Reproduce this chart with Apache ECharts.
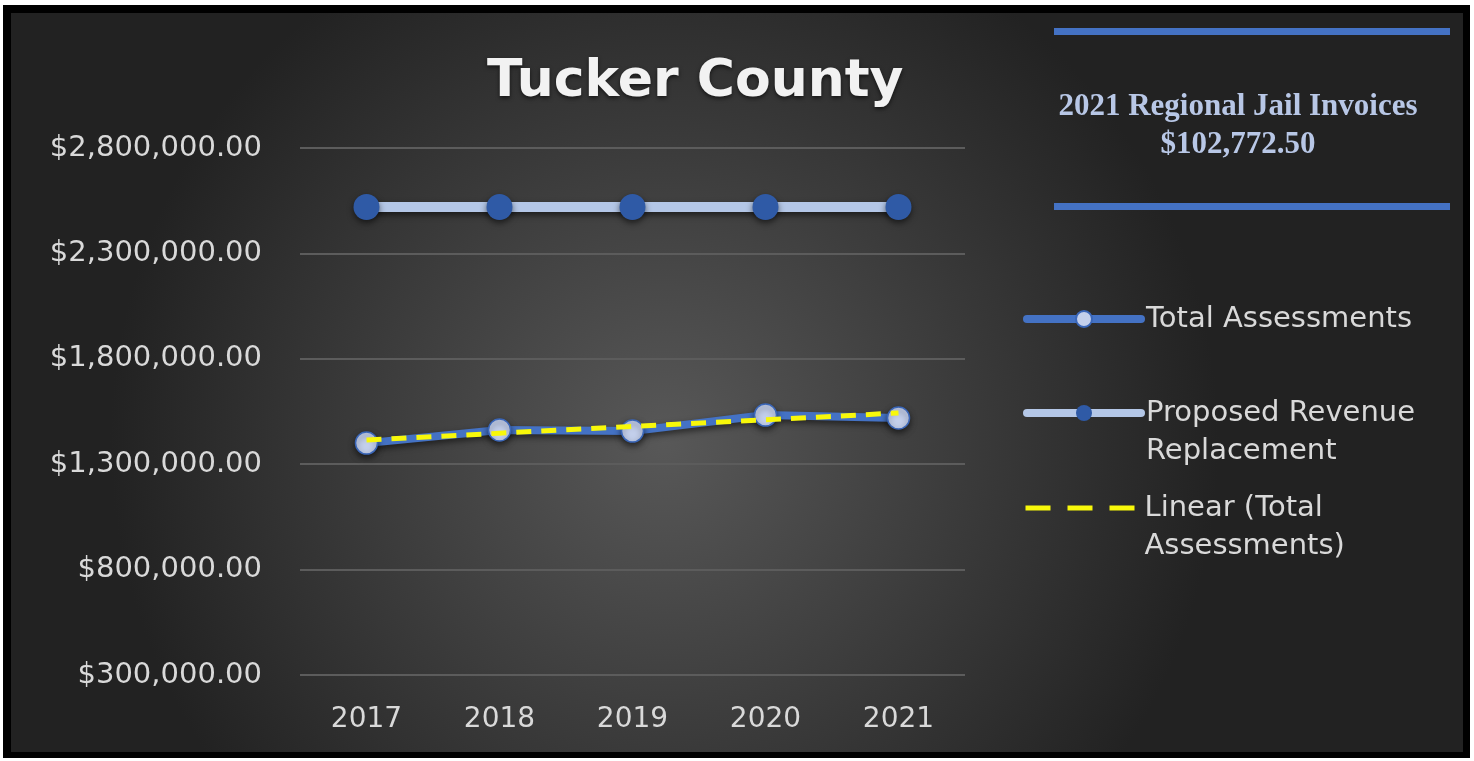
<!DOCTYPE html>
<html>
<head>
<meta charset="utf-8">
<script src="https://cdn.jsdelivr.net/npm/echarts@6/dist/echarts.min.js"></script>
<style>
  html, body { margin: 0; padding: 0; background: #fff; }
  .frame { position: absolute; left: 3px; top: 5px; width: 1467px; height: 753px; background: #000; }
  #chart { position: absolute; left: 8px; top: 8px; width: 1452px; height: 739px; }
</style>
</head>
<body>
<div class="frame"><div id="chart"></div></div>
<script>
// data
const years = ['2017', '2018', '2019', '2020', '2021']
const totalAssessments = [1400000, 1462000, 1457000, 1533000, 1519000]
const proposedRevenue = [2520000, 2520000, 2520000, 2520000, 2520000]
const linearTrend = [1415000, 1447000, 1479000, 1511000, 1543000]
const yTicks = { min: 300000, max: 2800000, step: 500000 }

const money = (v) =>
  '$' + v.toLocaleString('en-US', { minimumFractionDigits: 2, maximumFractionDigits: 2 })

const labelFont = 'DejaVu Sans'
const shadow = { shadowColor: 'rgba(0,0,0,0.55)', shadowBlur: 6, shadowOffsetY: 3 }
const legendText = { color: '#d9d9d9', fontFamily: labelFont, fontSize: 29, lineHeight: 38 }

const charts = echarts.init(document.getElementById('chart'))
charts.setOption({
  backgroundColor: {
    type: 'radial', x: 0.45, y: 0.58, r: 0.75,
    colorStops: [
      { offset: 0, color: '#585858' },
      { offset: 1, color: '#222222' },
    ],
  },
  title: {
    text: 'Tucker County',
    left: 476,
    top: 43,
    padding: 0,
    textStyle: {
      fontFamily: labelFont,
      fontWeight: 'bold',
      fontSize: 52,
      color: '#f2f2f2',
      textShadowColor: 'rgba(0,0,0,0.6)',
      textShadowBlur: 4,
      textShadowOffsetY: 2,
    },
  },
  grid: { left: 289, right: 498, top: 135, bottom: 77 },
  xAxis: {
    type: 'category',
    data: years,
    axisLine: { show: false },
    axisTick: { show: false },
    axisLabel: { color: '#d9d9d9', fontFamily: labelFont, fontSize: 28, margin: 31 },
  },
  yAxis: {
    type: 'value',
    min: yTicks.min,
    max: yTicks.max,
    interval: yTicks.step,
    axisLine: { show: false },
    axisTick: { show: false },
    axisLabel: { color: '#d9d9d9', fontFamily: labelFont, fontSize: 29, margin: 38, formatter: money },
    splitLine: { lineStyle: { color: '#5c5c5c', width: 2 } },
  },
  legend: [
    {
      data: ['Total Assessments'],
      orient: 'vertical', left: 1012, top: 287, padding: 0,
      itemWidth: 114, itemHeight: 20,
      lineStyle: { width: 8, cap: 'round' },
      textStyle: legendText,
    },
    {
      data: ['Proposed Revenue\nReplacement'],
      orient: 'vertical', left: 1012, top: 343, padding: 0,
      itemWidth: 114, itemHeight: 20,
      lineStyle: { width: 8, cap: 'round' },
      formatter: (name) => '\n' + name,
      textStyle: legendText,
    },
    {
      data: ['Linear (Total\nAssessments)'],
      orient: 'vertical', left: 1012, top: 438, padding: 0,
      itemWidth: 114, itemHeight: 20,
      itemStyle: { color: 'transparent', borderWidth: 0 },
      lineStyle: { width: 5, type: [25, 17] },
      formatter: (name) => '\n' + name,
      textStyle: legendText,
    },
  ],
  graphic: [
    { type: 'rect', shape: { x: 1043, y: 15, width: 396, height: 7 }, style: { fill: '#4472c4' } },
    { type: 'rect', shape: { x: 1043, y: 190, width: 396, height: 7 }, style: { fill: '#4472c4' } },
    {
      type: 'text', x: 1227, y: 113,
      style: {
        text: '2021 Regional Jail Invoices\n$102,772.50',
        align: 'center', verticalAlign: 'middle',
        font: 'bold 31px "Liberation Serif"', lineHeight: 38,
        fill: '#b8c7e6',
      },
    },
  ],
  series: [
    {
      name: 'Total Assessments',
      type: 'line',
      data: totalAssessments,
      symbol: 'circle',
      symbolSize: 22,
      lineStyle: { color: '#4472c4', width: 8, ...shadow },
      itemStyle: { color: '#c3cfeb', borderColor: '#3a66b8', borderWidth: 1.5, ...shadow },
      z: 3,
    },
    {
      name: 'Proposed Revenue\nReplacement',
      type: 'line',
      data: proposedRevenue,
      symbol: 'circle',
      symbolSize: 26,
      lineStyle: { color: '#b4c7e7', width: 10, ...shadow },
      itemStyle: { color: '#2f5aa6', ...shadow },
      z: 2,
    },
    {
      name: 'Linear (Total\nAssessments)',
      type: 'line',
      data: linearTrend,
      symbol: 'none',
      lineStyle: { color: '#f8f80a', width: 5, type: [15, 10] },
      z: 4,
    },
  ],
})
</script>
</body>
</html>
